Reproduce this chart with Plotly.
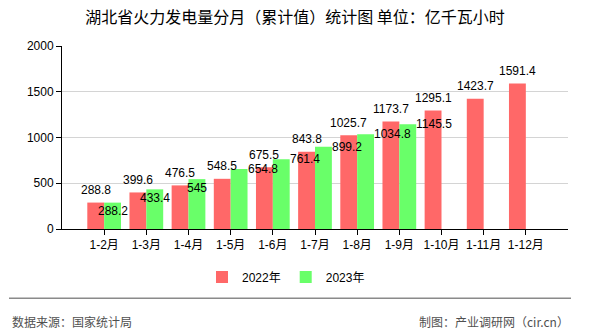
import plotly.graph_objects as go

categories = ["1-2月", "1-3月", "1-4月", "1-5月", "1-6月", "1-7月",
              "1-8月", "1-9月", "1-10月", "1-11月", "1-12月"]
values_2022 = [288.8, 399.6, 476.5, 548.5, 675.5, 843.8, 1025.7, 1173.7, 1295.1, 1423.7, 1591.4]
values_2023 = [288.2, 433.4, 545, 654.8, 761.4, 899.2, 1034.8, 1145.5]
series_names = ["2022年", "2023年"]
y_ticks = [0, 500, 1000, 1500, 2000]

title_text = "湖北省火力发电量分月（累计值）统计图 单位：亿千瓦小时"
source_text = "数据来源：国家统计局"
credit_text = "制图：产业调研网（cir.cn）"

RED = "#FF6868"
GREEN = "#69FF69"
GRID = "#D4D4D4"
CJK = "Noto Sans CJK SC"
LAT = "Liberation Sans, Noto Sans CJK SC"
LABEL_FONT = dict(family=LAT, size=12, color="#000000")

W, H = 590, 330
ML, MR, MT, MB = 62, 22, 46, 101
plot_w = W - ML - MR
plot_h = H - MT - MB
n = len(categories)
slot_px = plot_w / (n + 1)
half_bar = slot_px * 0.4 / 2


def py(px):
    """pixel y (from top) -> paper y"""
    return (H - MB - px) / plot_h


def px_x(px):
    return (px - ML) / plot_w


fig = go.Figure()
fig.add_bar(x=categories, y=values_2022, name=series_names[0],
            marker=dict(color=RED, line=dict(width=0)))
fig.add_bar(x=categories[:len(values_2023)], y=values_2023, name=series_names[1],
            marker=dict(color=GREEN, line=dict(width=0)))

annotations = []
for c, v in zip(categories, values_2022):
    annotations.append(dict(x=c, y=v, xref="x", yref="y", text=f"{v:g}",
                            showarrow=False, xanchor="center", yanchor="middle",
                            xshift=-half_bar, yshift=12.5, font=LABEL_FONT))
inside_count = 3
for i, (c, v) in enumerate(zip(categories, values_2023)):
    if i < inside_count:
        annotations.append(dict(x=c, y=v, xref="x", yref="y", text=f"{v:g}",
                                showarrow=False, xanchor="center", yanchor="middle",
                                xshift=half_bar, yshift=-8.5, font=LABEL_FONT))
    else:
        annotations.append(dict(x=c, y=v, xref="x", yref="y", text=f"{v:g}",
                                showarrow=False, xanchor="left", yanchor="middle",
                                xshift=2 * half_bar - 2, yshift=0, font=LABEL_FONT))

annotations.append(dict(x=px_x(10), y=py(321), xref="paper", yref="paper",
                        text=source_text, showarrow=False, xanchor="left", yanchor="middle",
                        font=dict(family=CJK, size=12, color="#505050")))
annotations.append(dict(x=px_x(571), y=py(321), xref="paper", yref="paper",
                        text=credit_text, showarrow=False, xanchor="right", yanchor="middle",
                        font=dict(family=CJK, size=12, color="#505050")))

fig.update_layout(
    width=W, height=H,
    margin=dict(l=ML, r=MR, t=MT, b=MB, pad=0),
    paper_bgcolor="white", plot_bgcolor="white",
    barmode="group", bargap=0.2, bargroupgap=0,
    font=dict(family=LAT, size=12, color="#000000"),
    title=dict(text=title_text, x=0.5, xanchor="center", xref="container",
               y=1 - 17 / H, yref="container", yanchor="middle",
               font=dict(family=CJK, size=16, color="#000000")),
    xaxis=dict(type="category", range=[-1, n], showgrid=False,
               showline=True, linecolor="#000000", linewidth=1,
               ticks="outside", ticklen=5, tickcolor="#000000",
               tickfont=dict(family=LAT, size=12, color="#000000"), fixedrange=True),
    xaxis2=dict(overlaying="x", anchor="y", type="linear", range=[-1, n],
                tick0=-1, dtick=1, showgrid=True, gridcolor=GRID, gridwidth=1,
                zeroline=False, showline=False, ticks="outside", ticklen=5,
                tickcolor="#000000", showticklabels=False, side="bottom"),
    yaxis=dict(range=[0, 2000], tickvals=y_ticks, showgrid=True, gridcolor=GRID,
               gridwidth=1, zeroline=False, showline=True, linecolor="#000000",
               linewidth=1, ticks="outside", ticklen=5, tickcolor="#000000",
               tickfont=dict(family=LAT, size=12, color="#000000")),
    legend=dict(orientation="h", x=px_x(286), xanchor="center", y=py(277),
                yanchor="middle", font=dict(family=LAT, size=12),
                bgcolor="rgba(0,0,0,0)", itemwidth=30, tracegroupgap=0),
    showlegend=True,
    annotations=annotations,
    shapes=[dict(type="line", xref="paper", yref="paper",
                 x0=px_x(9), x1=px_x(571), y0=py(298.3), y1=py(298.3),
                 line=dict(color="#8A8A8A", width=1.5))],
)

fig.write_html("out.html")
